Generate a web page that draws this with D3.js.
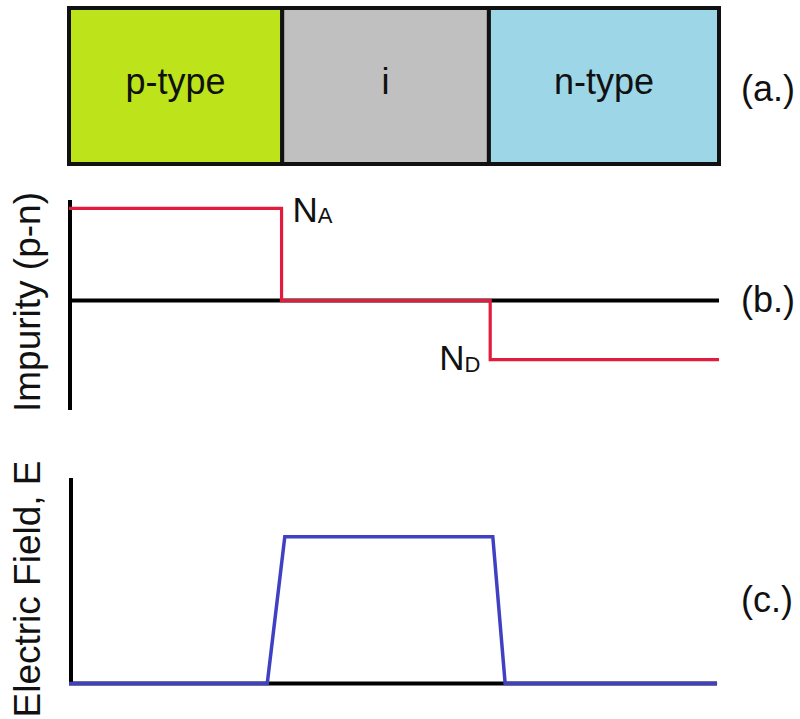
<!DOCTYPE html>
<html>
<head>
<meta charset="utf-8">
<script src="https://cdn.jsdelivr.net/npm/d3@7"></script>
<style>
  html, body { margin: 0; padding: 0; background: #fff; }
  svg { display: block; font-family: "Liberation Sans", Arial, sans-serif; }
</style>
</head>
<body>
<svg id="chart" width="800" height="719"></svg>
<script>
// ---- data ----
const regions = ["p-type", "i", "n-type"];
const regionBounds = [0, 3.28, 6.46, 10];      // position units along the device
const regionColors = ["#bde41b", "#c0c0c0", "#9dd6e7"];

// Impurity (p-n) profile: step points [position, value]
const impurityX = [0, 3.27, 3.27, 6.48, 6.48, 10];
const impurityY = [1, 1, 0, 0, -0.64, -0.64];
const impurityLabels = [{ main: "N", sub: "A" }, { main: "N", sub: "D" }];

// Electric field profile
const fieldX = [0, 3.05, 3.32, 6.52, 6.71, 9.97];
const fieldY = [0, 0, 1, 1, 0, 0];

const panelTags = ["(a.)", "(b.)", "(c.)"];
const yTitles = ["Impurity (p-n)", "Electric Field, E"];

// ---- layout ----
const svg = d3.select("#chart");
const x = d3.scaleLinear().domain([0, 10]).range([69, 719]);
const yB = d3.scaleLinear().domain([-1.185, 1.09]).range([410, 200]);
const yC = d3.scaleLinear().domain([0, 1.4]).range([683.5, 478]);

const FS = 36;

// ---- panel (a): device regions ----
const gA = svg.append("g");
const boxTop = 8, boxBot = 164;
gA.selectAll("rect.region").data(regions).enter().append("rect")
  .attr("x", (d, i) => x(regionBounds[i]))
  .attr("y", boxTop)
  .attr("width", (d, i) => x(regionBounds[i + 1]) - x(regionBounds[i]))
  .attr("height", boxBot - boxTop)
  .attr("fill", (d, i) => regionColors[i])
  .attr("stroke", "#111")
  .attr("stroke-width", 4);
gA.selectAll("text.region").data(regions).enter().append("text")
  .attr("x", (d, i) => (x(regionBounds[i]) + x(regionBounds[i + 1])) / 2)
  .attr("y", 94)
  .attr("text-anchor", "middle")
  .attr("font-size", FS)
  .attr("fill", "#111")
  .text(d => d);

// ---- panel (b): impurity ----
const gB = svg.append("g");
gB.append("line")
  .attr("x1", x(0) + 1).attr("x2", x(0) + 1)
  .attr("y1", yB.range()[1]).attr("y2", yB.range()[0])
  .attr("stroke", "#000").attr("stroke-width", 4);
gB.append("line")
  .attr("x1", x(0)).attr("x2", x(10))
  .attr("y1", yB(0)).attr("y2", yB(0))
  .attr("stroke", "#000").attr("stroke-width", 4);
const lineB = d3.line().x(d => x(d[0])).y(d => yB(d[1]));
gB.append("path")
  .datum(d3.zip(impurityX, impurityY))
  .attr("d", lineB)
  .attr("fill", "none")
  .attr("stroke", "#e21c3c")
  .attr("stroke-width", 3.2);

// N_A, N_D labels
const labA = gB.append("text").attr("x", x(impurityX[1]) + 11).attr("y", yB(impurityY[1]) + 14)
  .attr("font-size", 35).attr("fill", "#111");
labA.append("tspan").text(impurityLabels[0].main);
labA.append("tspan").attr("font-size", 22).attr("dy", 1).text(impurityLabels[0].sub);
const labD = gB.append("text").attr("x", x(impurityX[4]) - 51).attr("y", yB(impurityY[4]) + 10)
  .attr("font-size", 35).attr("fill", "#111");
labD.append("tspan").text(impurityLabels[1].main);
labD.append("tspan").attr("font-size", 22).attr("dy", 2).text(impurityLabels[1].sub);

// ---- panel (c): electric field ----
const gC = svg.append("g");
gC.append("line")
  .attr("x1", x(0) + 2).attr("x2", x(0) + 2)
  .attr("y1", yC.range()[1]).attr("y2", yC.range()[0] + 1)
  .attr("stroke", "#000").attr("stroke-width", 4);
gC.append("line")
  .attr("x1", x(0)).attr("x2", x(9.97))
  .attr("y1", yC(0)).attr("y2", yC(0))
  .attr("stroke", "#000").attr("stroke-width", 4);
const lineC = d3.line().x(d => x(d[0])).y(d => yC(d[1]));
gC.append("path")
  .datum(d3.zip(fieldX, fieldY))
  .attr("d", lineC)
  .attr("fill", "none")
  .attr("stroke", "#4040c2")
  .attr("stroke-width", 3.5)
  .attr("stroke-linejoin", "miter");

// ---- panel tags ----
const tagY = [101, 312, 612];
svg.selectAll("text.tag").data(panelTags).enter().append("text")
  .attr("x", 741).attr("y", (d, i) => tagY[i])
  .attr("font-size", FS).attr("fill", "#111")
  .text(d => d);

// ---- rotated y titles ----
const titleCY = [302, 589];
svg.selectAll("text.ytitle").data(yTitles).enter().append("text")
  .attr("transform", (d, i) => `translate(40,${titleCY[i]}) rotate(-90)`)
  .attr("text-anchor", "middle")
  .attr("font-size", 37).attr("fill", "#111")
  .text(d => d);
</script>
</body>
</html>
